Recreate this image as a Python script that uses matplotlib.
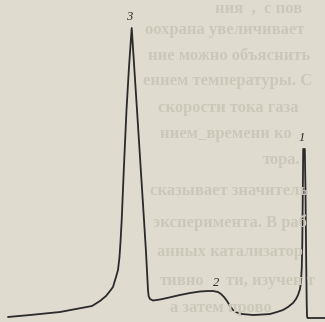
import matplotlib
matplotlib.use("Agg")
import matplotlib.pyplot as plt

# Chromatogram trace (time axis, detector signal)
time = [8, 30, 60, 92, 100, 106, 110, 113, 116, 118, 119.5, 120.5, 121.7, 124, 126.5, 129,
        131.7, 137, 144, 146, 147.3, 148, 148.6, 150, 153, 160, 167, 180, 190, 200, 208,
        213, 218, 221, 224, 227, 230, 233, 237, 242, 253, 263, 270, 277, 283, 288, 293,
        296, 298, 300, 301, 301.8, 302.3, 302.8, 303.2, 304.8, 305.5, 306.2, 306.7, 307,
        307.5, 325]
signal = [5, 7, 10, 16, 21, 26, 31, 35, 45, 52, 65, 80, 102, 157, 212, 255,
          294, 212, 102, 70, 45, 32, 26, 23, 21.5, 22.5, 24, 27, 29, 30.5, 31,
          31, 30, 28, 25, 21, 16, 12, 9.5, 8, 7, 7.5, 8, 10, 12, 15, 19,
          23, 27, 33, 40, 55, 80, 130, 173, 173, 130, 60, 20, 6,
          4, 4]

# Peak labels
peak_labels = ["3", "2", "1"]
peak_label_time = [129.5, 216, 301.5]
peak_label_signal = [305, 39, 184.5]

# Faint text showing through from the page
page_lines = ["ния  ,  с пов",
              "оохрана увеличивает",
              "ние можно объяснить",
              "ением температуры. С",
              "скорости тока газа",
              "нием_времени ко",
              "тора.",
              "сказывает значитель",
              "эксперимента. В раб",
              "анных катализатор",
              "тивно",
              "ти, изучен т",
              "а затем прово"]
page_line_x = [215, 145, 148, 143, 158, 160, 263, 150, 153, 157, 160, 226, 170]
page_line_y = [313, 292, 266, 241, 214, 188, 162, 131, 99, 70, 41, 41, 14]

bg = "#dfdccf"
fig = plt.figure(figsize=(3.25, 3.22), dpi=100, facecolor=bg)
ax = fig.add_axes([0, 0, 1, 1])
ax.set_facecolor(bg)
ax.set_xlim(0, 325)
ax.set_ylim(0, 322)
ax.axis("off")

for s, x, y in zip(page_lines, page_line_x, page_line_y):
    ax.text(x, y, s, fontsize=12, family="Liberation Serif", fontweight="bold",
            color="#cbc8ba", va="center", ha="left", clip_on=True)

ax.plot(time, signal, color="#2a2a2a", lw=1.3, solid_joinstyle="round",
        solid_capstyle="round")

for lab, x, y in zip(peak_labels, peak_label_time, peak_label_signal):
    ax.text(x, y, lab, fontsize=9, family="Liberation Serif", style="italic",
            color="#2a2a2a", ha="center", va="center")

fig.savefig("out.png", dpi=100, facecolor=bg)
